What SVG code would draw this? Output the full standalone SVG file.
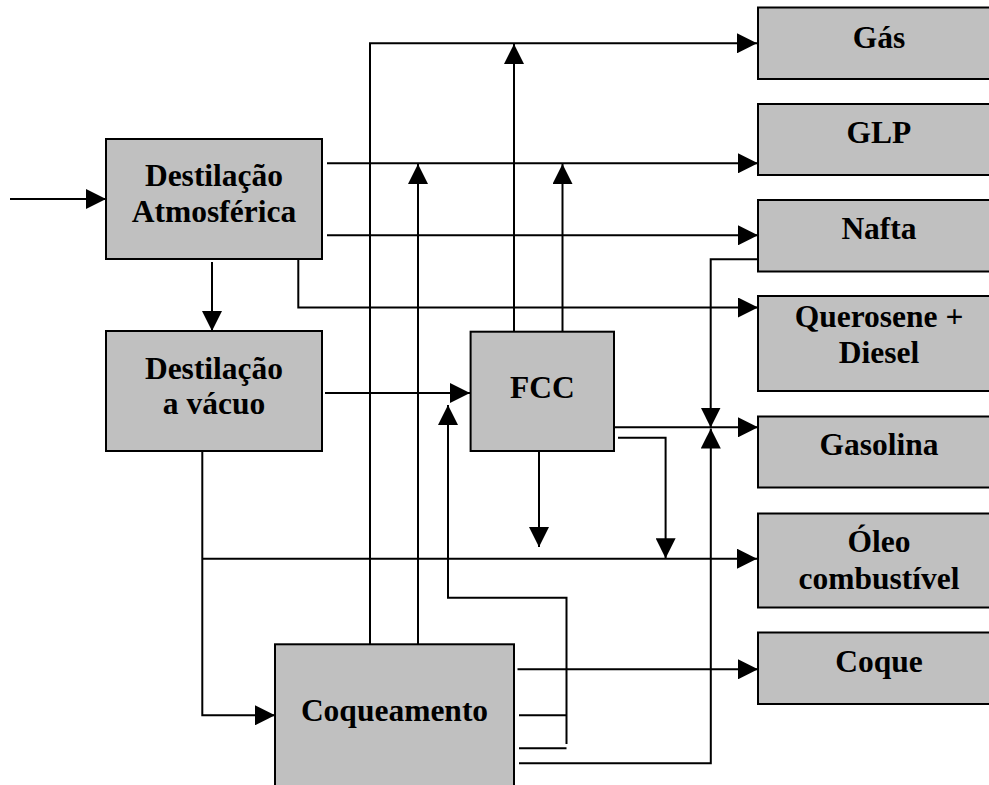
<svg xmlns="http://www.w3.org/2000/svg" width="989" height="785" viewBox="0 0 989 785">
<style>
.box{fill:#c0c0c0;stroke:#000;stroke-width:2}
.lbl{font-family:"Liberation Serif","Times New Roman",serif;font-weight:bold;font-size:31.5px;fill:#000;text-anchor:middle}
.ln{fill:none;stroke:#000;stroke-width:2}
.ar{fill:none;stroke:#000;stroke-width:2;marker-end:url(#ah)}
</style>
<defs>
<marker id="ah" markerUnits="userSpaceOnUse" markerWidth="20" markerHeight="20" refX="20" refY="10" orient="auto" viewBox="0 0 20 20">
<path d="M0,0 L20,10 L0,20 z" fill="#000"/>
</marker>
</defs>
<rect width="989" height="785" fill="#fff"/>
<g id="connectors">
<path class="ar" d="M10,199 H106"/>
<path class="ar" d="M327,163.3 H758"/>
<path class="ar" d="M327,235.3 H758"/>
<path class="ar" d="M298.3,259 V307.5 H758"/>
<path class="ar" d="M212,262 V331"/>
<path class="ar" d="M325,393 H470"/>
<path class="ar" d="M202.3,451 V715.3 H275"/>
<path class="ar" d="M202.3,558.7 H757"/>
<path class="ar" d="M370,644 V43.3 H757"/>
<path class="ar" d="M418,644 V164"/>
<path class="ar" d="M514,332 V44"/>
<path class="ar" d="M562.5,332 V164"/>
<path class="ar" d="M539,451 V547"/>
<path class="ar" d="M614,427.3 H758"/>
<path class="ar" d="M618,437.7 H665.6 V558.3"/>
<path class="ar" d="M758,259.3 H710.7 V427.5"/>
<path class="ar" d="M519,763.3 H710.8 V428.5"/>
<path class="ar" d="M517.5,669.3 H758"/>
<path class="ln" d="M519,715.3 H566.5"/>
<path class="ln" d="M519,748.3 H566.5"/>
<path class="ar" d="M566.5,744 V597.7 H448 V405"/>
</g>
<g id="node-atm">
<rect class="box" x="106" y="139" width="216" height="120"/>
<text class="lbl" x="214" y="185.7">Destilação</text>
<text class="lbl" x="214" y="221.7">Atmosférica</text>
</g>
<g id="node-vac">
<rect class="box" x="106" y="331" width="216" height="120"/>
<text class="lbl" x="214" y="379">Destilação</text>
<text class="lbl" x="214" y="414.3">a vácuo</text>
</g>
<g id="node-fcc">
<rect class="box" x="470.6" y="331.7" width="143.4" height="119.3"/>
<text class="lbl" x="542.3" y="398.3">FCC</text>
</g>
<g id="node-coq">
<rect class="box" x="275" y="644.3" width="239" height="160"/>
<text class="lbl" x="394.5" y="720.7">Coqueamento</text>
</g>
<g id="node-gas">
<rect class="box" x="758" y="7.5" width="250" height="71.5"/>
<text class="lbl" x="879" y="47.7">Gás</text>
</g>
<g id="node-glp">
<rect class="box" x="758" y="104" width="250" height="71"/>
<text class="lbl" x="879" y="143.3">GLP</text>
</g>
<g id="node-nafta">
<rect class="box" x="758" y="200" width="250" height="71.5"/>
<text class="lbl" x="879" y="239.3">Nafta</text>
</g>
<g id="node-querosene">
<rect class="box" x="758" y="296" width="250" height="95"/>
<text class="lbl" x="879" y="327.3">Querosene +</text>
<text class="lbl" x="879" y="362.7">Diesel</text>
</g>
<g id="node-gasolina">
<rect class="box" x="758" y="416.5" width="250" height="71"/>
<text class="lbl" x="879" y="455">Gasolina</text>
</g>
<g id="node-oleo">
<rect class="box" x="758" y="513.5" width="250" height="94"/>
<text class="lbl" x="879" y="552.3">Óleo</text>
<text class="lbl" x="879" y="589.3">combustível</text>
</g>
<g id="node-coque">
<rect class="box" x="758" y="632.5" width="250" height="71.5"/>
<text class="lbl" x="879" y="672">Coque</text>
</g>
</svg>
